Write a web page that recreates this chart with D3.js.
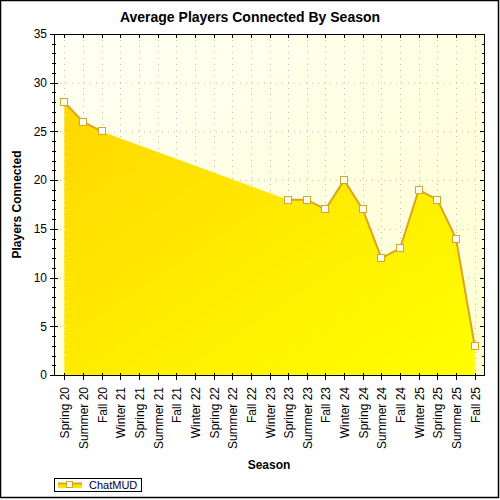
<!DOCTYPE html>
<html>
<head>
<meta charset="utf-8">
<script src="https://cdn.jsdelivr.net/npm/d3@7"></script>
<style>
  body { margin: 0; background: #fff; }
  svg { display: block; font-family: "Liberation Sans", Arial, sans-serif; }
</style>
</head>
<body>
<div id="chart"></div>
<script>
var seasons = ['Spring 20', 'Summer 20', 'Fall 20', 'Winter 21', 'Spring 21', 'Summer 21',
  'Fall 21', 'Winter 22', 'Spring 22', 'Summer 22', 'Fall 22', 'Winter 23', 'Spring 23',
  'Summer 23', 'Fall 23', 'Winter 24', 'Spring 24', 'Summer 24', 'Fall 24', 'Winter 25',
  'Spring 25', 'Summer 25', 'Fall 25']
// null = no value reported that season
var players = [28, 26, 25, null, null, null, null, null, null, null, null, null, 18,
  18, 17, 20, 17, 12, 13, 19, 18, 14, 3]
var yTicks = [0, 5, 10, 15, 20, 25, 30, 35]
var seriesName = 'ChatMUD'

;(function (d3) {
  var width = 500
  var height = 500
  var margin = { top: 34, right: 16, bottom: 125, left: 54 }
  var lineColor = '#DAA520'

  var svg = d3.select('#chart').append('svg')
    .attr('width', width)
    .attr('height', height)

  var defs = svg.append('defs')
  var bg = defs.append('linearGradient').attr('id', 'bgGrad')
    .attr('x1', 0).attr('y1', 0).attr('x2', 1).attr('y2', 1)
  bg.append('stop').attr('offset', 0).attr('stop-color', '#FFFFF4')
  bg.append('stop').attr('offset', 1).attr('stop-color', '#FFFFD2')
  var fillGrad = defs.append('linearGradient').attr('id', 'areaGrad')
    .attr('x1', 0).attr('y1', 0).attr('x2', 1).attr('y2', 1)
  fillGrad.append('stop').attr('offset', 0).attr('stop-color', '#FFD700')
  fillGrad.append('stop').attr('offset', 1).attr('stop-color', '#FFFF00')

  var data = seasons.map(function (s, i) { return { season: s, value: players[i] } })
  var known = data.filter(function (d) { return d.value != null })

  var x0 = margin.left
  var x1 = width - margin.right
  var yTop = margin.top
  var yBot = height - margin.bottom

  var x = d3.scalePoint().domain(seasons).range([x0 + 1, x1]).padding(0.5)
  var y = d3.scaleLinear().domain([0, 35]).range([yBot, yTop])

  // plot background
  svg.append('rect')
    .attr('x', x0).attr('y', yTop)
    .attr('width', x1 - x0).attr('height', yBot - yTop)
    .attr('fill', 'url(#bgGrad)')

  // dotted grid
  var grid = svg.append('g')
    .attr('stroke', '#BDBDBD')
    .attr('stroke-dasharray', '1,5')
  grid.selectAll('.hgrid')
    .data(yTicks.filter(function (t) { return t > 0 && t < 35 }))
    .enter().append('line')
    .attr('x1', x0).attr('x2', x1)
    .attr('y1', function (d) { return y(d) + 0.5 })
    .attr('y2', function (d) { return y(d) + 0.5 })
  grid.selectAll('.vgrid')
    .data(seasons)
    .enter().append('line')
    .attr('y1', yTop).attr('y2', yBot)
    .attr('x1', function (d) { return Math.round(x(d)) + 0.5 })
    .attr('x2', function (d) { return Math.round(x(d)) + 0.5 })

  // area skips the empty seasons, line breaks at them
  var area = d3.area()
    .x(function (d) { return x(d.season) })
    .y0(y(0))
    .y1(function (d) { return y(d.value) })
  svg.append('path')
    .datum(known)
    .attr('d', area)
    .attr('fill', 'url(#areaGrad)')

  var line = d3.line()
    .defined(function (d) { return d.value != null })
    .x(function (d) { return x(d.season) })
    .y(function (d) { return y(d.value) })
  svg.append('path')
    .datum(data)
    .attr('d', line)
    .attr('fill', 'none')
    .attr('stroke', lineColor)
    .attr('stroke-width', 2)

  svg.selectAll('.dot')
    .data(known)
    .enter().append('rect')
    .attr('class', 'dot')
    .attr('x', function (d) { return Math.round(x(d.season)) - 3.5 })
    .attr('y', function (d) { return Math.round(y(d.value)) - 3.5 })
    .attr('width', 7)
    .attr('height', 7)
    .attr('fill', '#fff')
    .attr('stroke', lineColor)

  // frame around plot
  svg.append('rect')
    .attr('x', x0 + 0.5).attr('y', yTop + 0.5)
    .attr('width', x1 - x0).attr('height', yBot - yTop)
    .attr('fill', 'none')
    .attr('stroke', '#000')

  // left axis: major + minor ticks crossing the line
  var minor = d3.range(0, 36)
  var ticks = svg.append('g').attr('stroke', '#000')
  ticks.selectAll('.ly')
    .data(minor)
    .enter().append('line')
    .attr('x1', function (d) { return d % 5 === 0 ? x0 - 4 : x0 - 2 })
    .attr('x2', function (d) { return d % 5 === 0 ? x0 + 4 : x0 + 2 })
    .attr('y1', function (d) { return Math.round(y(d)) + 0.5 })
    .attr('y2', function (d) { return Math.round(y(d)) + 0.5 })
  // right side ticks, inward
  ticks.selectAll('.ry')
    .data(minor)
    .enter().append('line')
    .attr('x1', function (d) { return d % 5 === 0 ? x1 - 4 : x1 - 2 })
    .attr('x2', x1)
    .attr('y1', function (d) { return Math.round(y(d)) + 0.5 })
    .attr('y2', function (d) { return Math.round(y(d)) + 0.5 })
  // bottom and top ticks at each season
  ticks.selectAll('.bx')
    .data(seasons)
    .enter().append('line')
    .attr('x1', function (d) { return Math.round(x(d)) + 0.5 })
    .attr('x2', function (d) { return Math.round(x(d)) + 0.5 })
    .attr('y1', yBot - 2).attr('y2', yBot + 5)
  ticks.selectAll('.tx')
    .data(seasons)
    .enter().append('line')
    .attr('x1', function (d) { return Math.round(x(d)) + 0.5 })
    .attr('x2', function (d) { return Math.round(x(d)) + 0.5 })
    .attr('y1', yTop).attr('y2', yTop + 4)

  // tick labels
  svg.selectAll('.ylab')
    .data(yTicks)
    .enter().append('text')
    .attr('x', x0 - 7)
    .attr('y', function (d) { return y(d) })
    .attr('dy', '0.36em')
    .attr('text-anchor', 'end')
    .style('font-size', '12px')
    .text(function (d) { return d })

  svg.selectAll('.xlab')
    .data(seasons)
    .enter().append('text')
    .attr('transform', function (d) {
      return 'translate(' + (x(d) + 5) + ',' + (yBot + 12) + ') rotate(-90)'
    })
    .attr('text-anchor', 'end')
    .style('font-size', '12px')
    .text(function (d) { return d })

  // titles
  svg.append('text')
    .attr('x', 250).attr('y', 22)
    .attr('text-anchor', 'middle')
    .style('font-size', '14px').style('font-weight', 'bold')
    .text('Average Players Connected By Season')
  svg.append('text')
    .attr('x', (x0 + x1) / 2).attr('y', 469)
    .attr('text-anchor', 'middle')
    .style('font-size', '12px').style('font-weight', 'bold')
    .text('Season')
  svg.append('text')
    .attr('transform', 'translate(21,' + ((yTop + yBot) / 2) + ') rotate(-90)')
    .attr('text-anchor', 'middle')
    .style('font-size', '12px').style('font-weight', 'bold')
    .text('Players Connected')

  // legend
  var legend = svg.append('g').attr('transform', 'translate(54,478)')
  legend.append('rect')
    .attr('x', 0.5).attr('y', 0.5).attr('width', 87).attr('height', 13)
    .attr('fill', '#fff').attr('stroke', '#000')
  legend.append('rect')
    .attr('x', 4).attr('y', 5).attr('width', 24).attr('height', 5)
    .attr('fill', '#FFE400')
  legend.append('line')
    .attr('x1', 4).attr('x2', 28).attr('y1', 5.5).attr('y2', 5.5)
    .attr('stroke', lineColor).attr('stroke-width', 2)
  legend.append('rect')
    .attr('x', 12.5).attr('y', 3.5).attr('width', 6).attr('height', 6)
    .attr('fill', '#fff').attr('stroke', lineColor)
  legend.append('text')
    .attr('x', 35).attr('y', 11)
    .style('font-size', '11px')
    .attr('fill', '#000033')
    .text(seriesName)

  // outer border
  svg.append('rect')
    .attr('x', 0.5).attr('y', 0.5).attr('width', 498).attr('height', 497)
    .attr('fill', 'none').attr('stroke', '#000').attr('stroke-width', 1.5)
})(d3)
</script>
</body>
</html>
